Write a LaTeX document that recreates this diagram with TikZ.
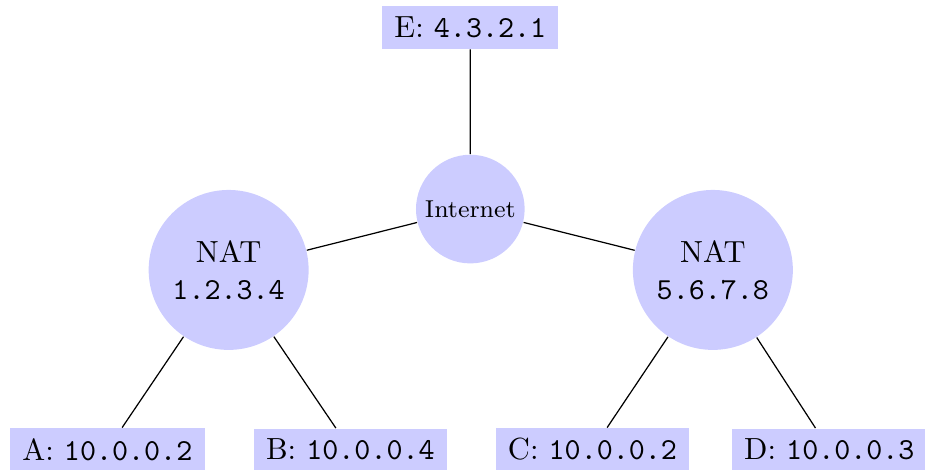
\documentclass[tikz,border=0pt]{standalone}
\begin{document}
\begin{tikzpicture}[
		host/.style={fill=blue!20, inner xsep=4pt, minimum height=0.455cm},
		nat/.style={circle, fill=blue!20, minimum size=1.84cm, align=center},
		cloud/.style={circle, fill=blue!20, inner sep=1pt, minimum size=1.25cm, font=\footnotesize}
	]
		\useasboundingbox (0,0) rectangle (10.64,5.405);
		\node[host, minimum height=0.495cm] (e) at (5.41,5.09) {E: \texttt{4.3.2.1}};
		\node[cloud] (inet) at (5.41,3.0) {Internet};
		\node[nat] (natl) at (2.63,2.3) {NAT\\\texttt{1.2.3.4}};
		\node[nat] (natr) at (8.2,2.3) {NAT\\\texttt{5.6.7.8}};
		\node[host] (a) at (1.235,0.235) {A: \texttt{10.0.0.2}};
		\node[host] (b) at (4.03,0.235) {B: \texttt{10.0.0.4}};
		\node[host] (c) at (6.815,0.235) {C: \texttt{10.0.0.2}};
		\node[host] (d) at (9.54,0.235) {D: \texttt{10.0.0.3}};
		\draw (inet) -- (e) (inet) -- (natl) (inet) -- (natr);
		\draw (natl) -- (a) (natl) -- (b) (natr) -- (c) (natr) -- (d);
	\end{tikzpicture}
\end{document}
